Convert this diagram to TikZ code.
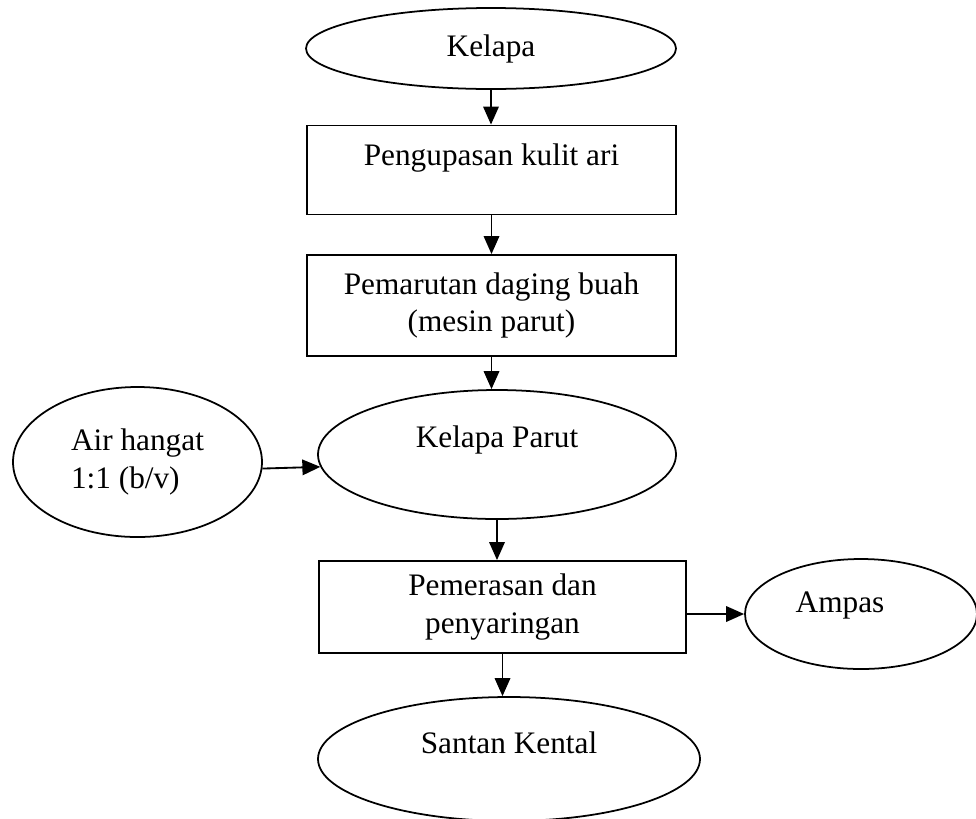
\documentclass[tikz,border=0pt]{standalone}
\usepackage{fontspec}
\setmainfont{Liberation Serif}
\usetikzlibrary{arrows.meta,shapes.geometric}

\begin{document}
\begin{tikzpicture}[
    box/.style={rectangle,draw=black,line width=1.05pt,inner sep=0pt,align=center},
    ell/.style={ellipse,draw=black,line width=1pt,inner sep=0pt,align=center},
    e/.style={-{Triangle[length=3.6mm,width=3.1mm]},line width=1.05pt,black},
    font=\fontsize{17.8}{21.5}\selectfont
  ]
    \useasboundingbox (0,0) rectangle (19.52,-16.36);
    \node[ell,minimum width=7.4cm,minimum height=1.62cm] (kelapa) at (9.82,-.97) {Kelapa};
    \node[box,minimum width=7.38cm,minimum height=1.78cm,label={[yshift=.24cm]center:Pengupasan kulit ari}] (kupas) at (9.83,-3.4) {};
    \node[box,minimum width=7.38cm,minimum height=2.02cm] (marut) at (9.83,-6.11) {Pemarutan daging buah\\(mesin parut)};
    \node[ell,minimum width=7.16cm,minimum height=2.58cm,label={[yshift=.29cm]center:Kelapa Parut}] (parut) at (9.94,-9.09) {};
    \node[ell,minimum width=4.98cm,minimum height=3cm,align=left] (air) at (2.75,-9.24) {Air hangat\\1:1 (b/v)};
    \node[box,minimum width=7.34cm,minimum height=1.84cm] (peras) at (10.05,-12.14) {Pemerasan dan\\penyaringan};
    \node[ell,minimum width=4.64cm,minimum height=2.2cm,label={[xshift=-.42cm,yshift=.18cm]center:Ampas}] (ampas) at (17.22,-12.28) {};
    \node[ell,minimum width=7.64cm,minimum height=2.48cm,label={[yshift=.33cm]center:Santan Kental}] (santan) at (10.18,-15.18) {};
    \foreach \s/\t in {kelapa/kupas,kupas/marut,marut/parut,parut/peras,peras/santan} {\draw[e] (\s.south)--(\s.south |- \t.north);}
    \draw[e] (air.-3)--(parut.184);
    \draw[e] (peras.east |- ampas.west)--(ampas.west);
  \end{tikzpicture}
\end{document}
